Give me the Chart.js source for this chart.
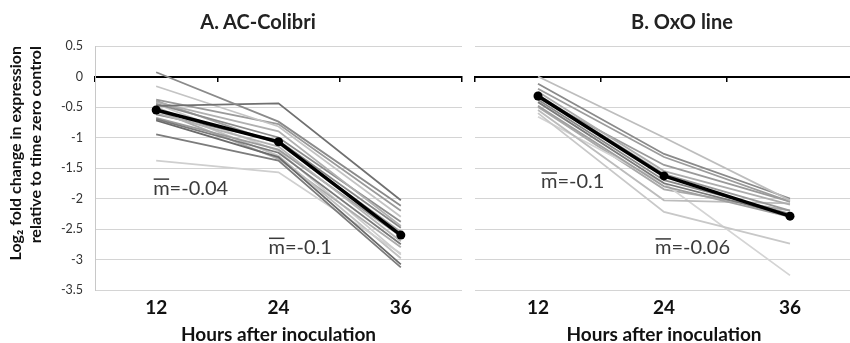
<!DOCTYPE html>
<html><head><meta charset="utf-8">
<script src="https://cdn.jsdelivr.net/npm/chart.js@4/dist/chart.umd.min.js"></script>
<style>
html,body{margin:0;padding:0;background:#fff;overflow:hidden;}
#wrap{position:relative;width:850px;height:343px;overflow:hidden;background:#fff;}
canvas{position:absolute;top:0;}
.ttl{position:absolute;top:9px;font:bold 20px Lato, 'Open Sans', sans-serif;color:#222;white-space:nowrap;transform:translateX(-50%);}
</style></head>
<body>
<div id="wrap">
  <canvas id="cA" width="468" height="343" style="left:0;width:468px;height:343px"></canvas>
  <canvas id="cB" width="392" height="343" style="left:466px;width:392px;height:343px"></canvas>
  <div class="ttl" style="left:258px">A. AC-Colibri</div>
  <div class="ttl" style="left:682px">B. OxO line</div>
</div>
<script>
// ---- data ----
const hours = ['12', '24', '36'];
const yTicks = { min: -3.5, max: 0.5, step: 0.5 };
const colibriMean = [-0.55, -1.07, -2.6];
const colibriGenes = [
  [0.07, -0.74, -2.12],
  [-0.48, -0.44, -2.03],
  [-0.16, -0.82, -2.3],
  [-0.38, -0.78, -2.2],
  [-0.42, -0.9, -2.45],
  [-0.45, -1.0, -2.38],
  [-0.4, -1.1, -2.55],
  [-0.6, -1.15, -2.7],
  [-0.7, -1.25, -2.75],
  [-0.72, -1.32, -3.08],
  [-0.95, -1.38, -3.13],
  [-1.38, -1.57, -2.9],
  [-0.68, -1.2, -2.62],
  [-0.5, -1.3, -2.98],
  [-0.55, -1.35, -2.8],
  [-0.62, -1.05, -2.48],
  [-0.45, -1.22, -2.92]
];
const oxoMean = [-0.32, -1.63, -2.29];
const oxoGenes = [
  [0.0, -1.0, -2.03],
  [-0.12, -1.27, -2.0],
  [-0.2, -1.32, -2.05],
  [-0.25, -1.55, -2.1],
  [-0.3, -1.6, -2.2],
  [-0.38, -1.7, -2.25],
  [-0.42, -1.75, -2.28],
  [-0.48, -1.8, -2.3],
  [-0.55, -2.03, -2.08],
  [-0.6, -2.22, -2.74],
  [-0.66, -1.75, -3.26],
  [-0.5, -1.85, -2.2],
  [-0.35, -1.45, -2.05]
];
const colibriNotes = [
  { text: '=-0.04', cat: '12', y: -1.83 },
  { text: '=-0.1', cat: '24', y: -2.8 }
];
const oxoNotes = [
  { text: '=-0.1', cat: '12', y: -1.73 },
  { text: '=-0.06', cat: '24', y: -2.81 }
];

// ---- styles ----
const colibriShades = ['#8a8a8a','#707070','#c4c4c4','#9a9a9a','#b0b0b0','#8c8c8c','#a0a0a0','#b4b4b4','#7a7a7a','#6a6a6a','#7c7c7c','#cfcfcf','#9c9c9c','#c0c0c0','#acacac','#888888','#cccccc'];
const oxoShades = ['#bdbdbd','#8a8a8a','#9c9c9c','#adadad','#9a9a9a','#8a8a8a','#7a7a7a','#a0a0a0','#bcbcbc','#c8c8c8','#d4d4d4','#aaaaaa','#9a9a9a'];
const noteDx = [[-3, 0], [-10, 0]];
const noteDxB = [[3, 0], [-9, 0]];
const FONT = "Lato, 'Open Sans', sans-serif";

function buildDatasets(mean, genes, shades) {
  const ds = [{
    data: mean, borderColor: '#000', backgroundColor: '#000', borderWidth: 3.5,
    pointRadius: 4.5, pointBackgroundColor: '#000', pointBorderWidth: 0, tension: 0
  }];
  genes.forEach((g, i) => ds.push({
    data: g, borderColor: shades[i % shades.length], borderWidth: 1.8, pointRadius: 0, tension: 0
  }));
  return ds;
}

const notePlugin = {
  id: 'notes',
  afterDatasetsDraw(chart, args, opts) {
    const ctx = chart.ctx, xs = chart.scales.x, ys = chart.scales.y;
    ctx.save();
    ctx.font = '20px ' + FONT;
    ctx.fillStyle = '#3a3a3a';
    ctx.strokeStyle = '#3a3a3a';
    ctx.textBaseline = 'middle';
    ctx.textAlign = 'left';
    opts.notes.forEach((n, i) => {
      const x = xs.getPixelForValue(hours.indexOf(n.cat)) + opts.dx[i][0];
      const y = ys.getPixelForValue(n.y) + opts.dx[i][1];
      const mw = ctx.measureText('m').width;
      ctx.fillText('m', x, y);
      ctx.fillText(n.text, x + mw, y);
      ctx.lineWidth = 1.5;
      ctx.beginPath();
      ctx.moveTo(x + 0.5, y - 9);
      ctx.lineTo(x + mw - 0.5, y - 9);
      ctx.stroke();
    });
    ctx.restore();
  }
};

function makeChart(id, mean, genes, shades, notes, dx, isLeft) {
  const padL = isLeft ? 0 : 9;
  const padR = isLeft ? 6 : 5;
  return new Chart(document.getElementById(id), {
    type: 'line',
    data: { labels: hours, datasets: buildDatasets(mean, genes, shades) },
    plugins: [notePlugin],
    options: {
      responsive: false, animation: false,
      layout: { padding: { top: 46, left: padL, right: padR, bottom: 0 } },
      plugins: { legend: { display: false }, tooltip: { enabled: false }, title: { display: false },
        notes: { notes: notes, dx: dx } },
      scales: {
        x: {
          type: 'category', position: 'bottom', offset: true,
          grid: { display: false, drawTicks: false },
          border: { display: false },
          ticks: { padding: 6, color: '#111', font: { family: FONT, size: 19, weight: 'bold' } },
          title: { display: true, text: 'Hours after inoculation', color: '#111', padding: { top: 0, bottom: -3 },
            font: { family: FONT, size: 19, weight: 'bold' } },
          afterFit(s) { s.height = 53; }
        },
        x0: {
          type: 'category', axis: 'x', position: { y: 0 }, offset: true,
          grid: { display: true, offset: true, drawOnChartArea: false, drawTicks: true, tickLength: 4, color: '#000', lineWidth: 1.5 },
          border: { display: true, color: '#000', width: 2 },
          ticks: { display: false }
        },
        y: {
          type: 'linear', min: yTicks.min, max: yTicks.max,
          grid: { color: '#d4d4d4', lineWidth: 1, drawTicks: false },
          border: { display: isLeft, color: '#c8c8c8', width: 1 },
          ticks: { display: isLeft, stepSize: yTicks.step, padding: 12, color: '#333',
            font: { family: FONT, size: 12.5 }, callback: (v) => String(v) },
          title: { display: isLeft, text: ['Log\u2082 fold change in expression', 'relative to time zero control'],
            align: 'end', color: '#111', padding: { top: 5, bottom: 0 },
            font: { family: FONT, size: 16, weight: 'bold', lineHeight: 1.3 } },
          afterFit(s) { s.width = isLeft ? 95 : 0; }
        }
      }
    }
  });
}

makeChart('cA', colibriMean, colibriGenes, colibriShades, colibriNotes, noteDx, true);
makeChart('cB', oxoMean, oxoGenes, oxoShades, oxoNotes, noteDxB, false);
</script>
</body></html>
